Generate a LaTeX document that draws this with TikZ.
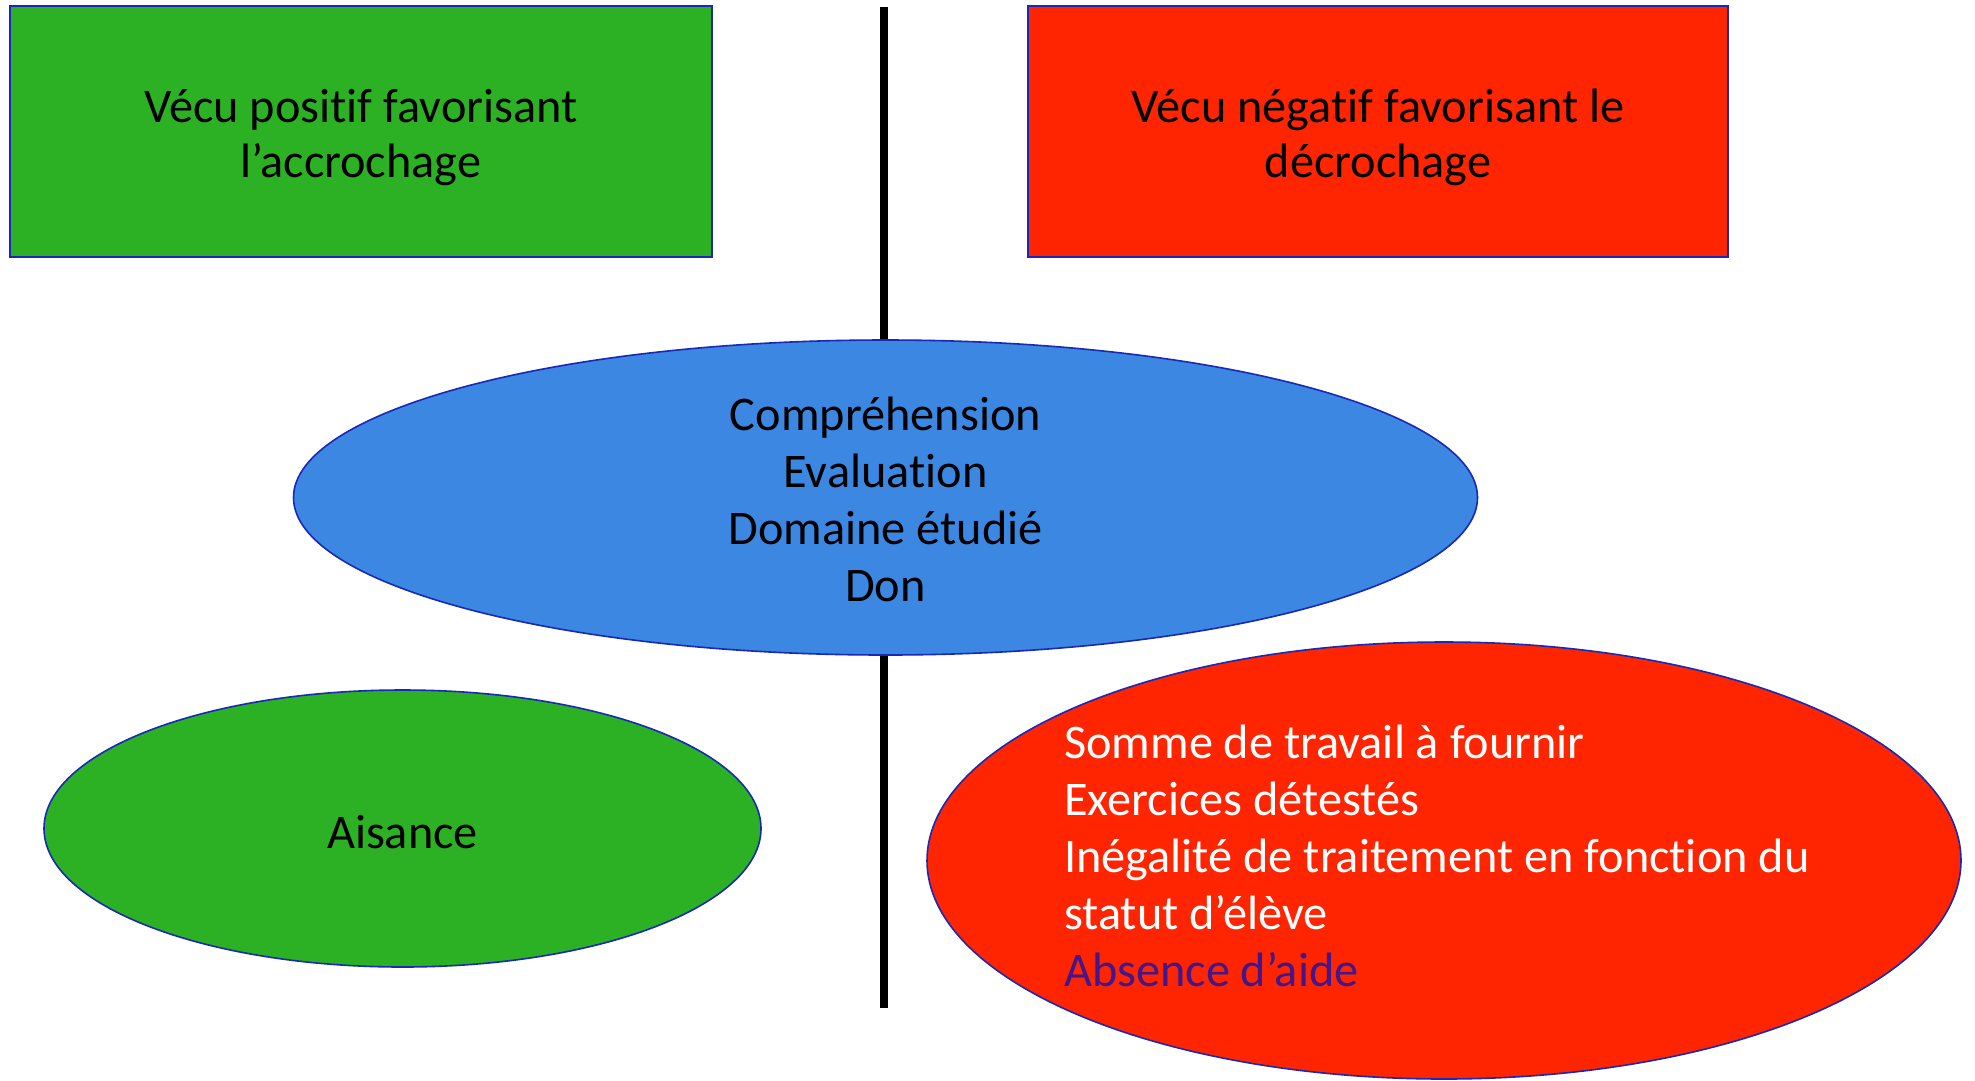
\documentclass[tikz,border=0pt]{standalone}
\usepackage{fontspec}
\setmainfont{Carlito}[Ligatures=NoCommon]
\usetikzlibrary{shapes.geometric}
\definecolor{boxgreen}{HTML}{2CB124}
\definecolor{boxred}{HTML}{FF2500}
\definecolor{ellblue}{HTML}{3B87E1}
\definecolor{edgeblue}{HTML}{1A28B8}
\definecolor{darkviolet}{HTML}{42168C}
\tikzset{
  panel/.style={rectangle, draw=edgeblue, line width=2pt, inner sep=0pt},
  oval/.style={ellipse, draw=edgeblue, line width=1.6pt, inner sep=0pt},
  lbl/.style={font=\fontsize{48.3}{55}\selectfont, anchor=base, inner sep=0pt},
  lblov/.style={font=\fontsize{48.3}{57}\selectfont, anchor=base, inner sep=0pt},
}
\begin{document}
\begin{tikzpicture}[x=1pt,y=-1pt]
\useasboundingbox (0,0) rectangle (1975,1080);
\fill[white] (0,0) rectangle (1975,1080);
% divider
\coordinate (ltop) at (884,7);
\coordinate (lbot) at (884,1008);
\draw[line width=8pt] (ltop) -- (lbot);
% top boxes
\node[panel, fill=boxgreen, minimum width=702pt, minimum height=251pt] (gbox) at (361,131.5) {};
\node[panel, fill=boxred, minimum width=700pt, minimum height=251pt] (rbox) at (1378,131.5) {};
\node[lbl, align=center] (gtxt) at (361,177) {Vécu positif favorisant\\l’accrochage};
\node[lbl, align=center] (rtxt) at (1378,177) {Vécu négatif favorisant le\\décrochage};
% ellipses
\node[oval, fill=ellblue, minimum width=1184pt, minimum height=315pt] (blue) at (885.5,497.5) {};
\node[lblov, align=center] (btxt) at (885.5,601) {Compréhension\\Evaluation\\Domaine étudié\\Don};
\node[oval, fill=boxgreen, minimum width=717pt, minimum height=277pt] (gell) at (402.5,828.5) {};
\node[lblov] (atxt) at (402.5,848) {Aisance};
\node[oval, fill=boxred, minimum width=1034pt, minimum height=437pt] (rell) at (1444,860.5) {};
\node[lblov, align=left, anchor=base west, text=white] (rtxt2) at (1064,986) {Somme de travail à fournir\\Exercices détestés\\Inégalité de traitement en fonction du\\statut d’élève\\\textcolor{darkviolet}{Absence d’aide}};
\end{tikzpicture}
\end{document}
